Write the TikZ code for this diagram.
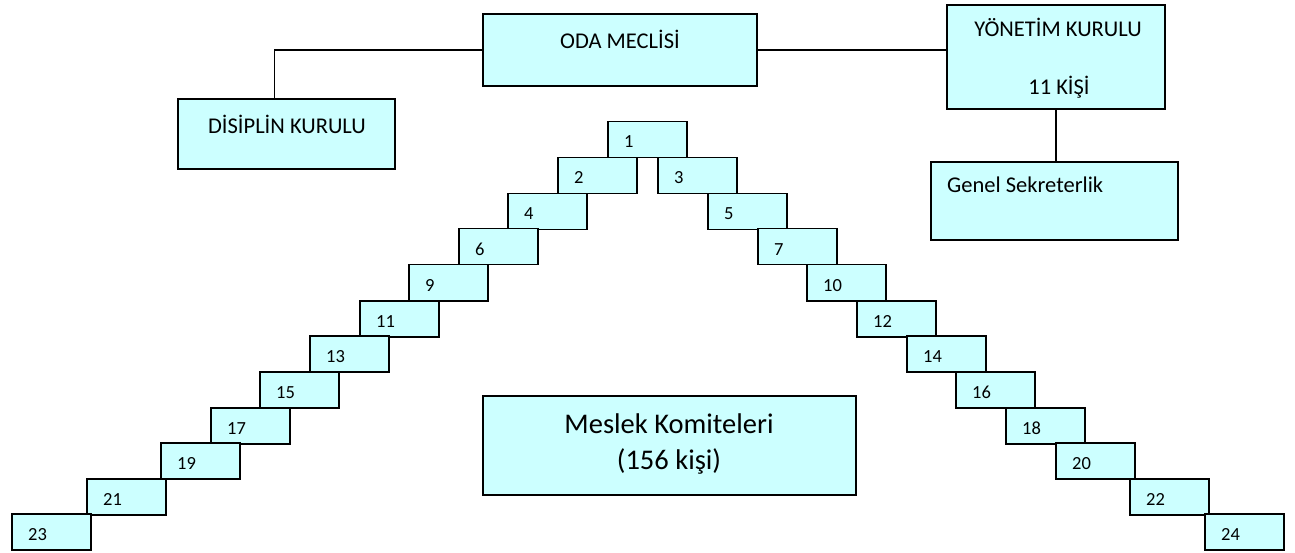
\documentclass[tikz,border=0pt]{standalone}
\usepackage{fontspec}
\setmainfont{Carlito}
\usetikzlibrary{calc}
\definecolor{boxfill}{RGB}{204,255,255}
\tikzset{
  mainbox/.style={draw=black, fill=boxfill, line width=1.5pt, inner sep=0pt, rectangle},
  stepbox/.style={mainbox, minimum width=79pt, minimum height=36pt, anchor=north west},
  steplabel/.style={anchor=base west, inner sep=0pt, font=\fontsize{18.5}{22}\selectfont},
  maintext/.style={anchor=base, inner sep=0pt, font=\fontsize{22.5}{27}\selectfont},
  bigtext/.style={anchor=base, inner sep=0pt, font=\fontsize{28.5}{34}\selectfont},
  conn/.style={draw=black, line width=1.5pt}
}
\begin{document}
\begin{tikzpicture}[x=1pt,y=-1pt]
\useasboundingbox (0,0) rectangle (1295,553);

% main boxes
\node[mainbox, minimum width=274pt, minimum height=72pt] (oda) at (620,50) {};
\node[mainbox, minimum width=217pt, minimum height=70pt] (dis) at (286.5,134) {};
\node[mainbox, minimum width=218pt, minimum height=104pt] (yon) at (1056,57) {};
\node[mainbox, minimum width=247pt, minimum height=78pt] (gen) at (1054.5,201) {};
\node[mainbox, minimum width=373pt, minimum height=99pt] (mes) at (669.5,445.5) {};

% texts
\node[maintext] (odat) at (620,49) {ODA MECLİSİ};
\node[maintext] (dist) at (287,134) {DİSİPLİN KURULU};
\node[maintext] (yont) at (1058,37) {YÖNETİM KURULU};
\node[maintext] (yonk) at (1059,95) {11 KİŞİ};
\node[maintext, anchor=base west] (gent) at (947,193) {Genel Sekreterlik};
\node[bigtext] (mest) at (669,433) {Meslek Komiteleri};
\node[bigtext] (mesk) at (669,469) {(156 kişi)};

% connectors
\draw[conn] (oda.west) -| ($(dis.north west)+(97,0)$);
\draw[conn] (oda.east) -- (oda.east -| yon.west);
\draw[conn] (yon.south) -- (yon.south |- gen.north);

% staircase
\foreach \n/\x/\y in {1/607/121,
  2/557/157, 3/657/157,
  4/507/193, 5/707/193,
  6/458/228, 7/757/228,
  9/408/264, 10/806/264,
  11/359/300, 12/856/300,
  13/309/335, 14/906/335,
  15/259/371, 16/955/371,
  17/210/407, 18/1005/407,
  19/160/442, 20/1055/442,
  21/86/478, 22/1129/478,
  23/11/513, 24/1204/513}{
  \node[stepbox] (s\n) at (\x,\y) {};
  \node[steplabel] (l\n) at ($(s\n.north west)+(17,27)$) {\n};
}
\end{tikzpicture}
\end{document}
